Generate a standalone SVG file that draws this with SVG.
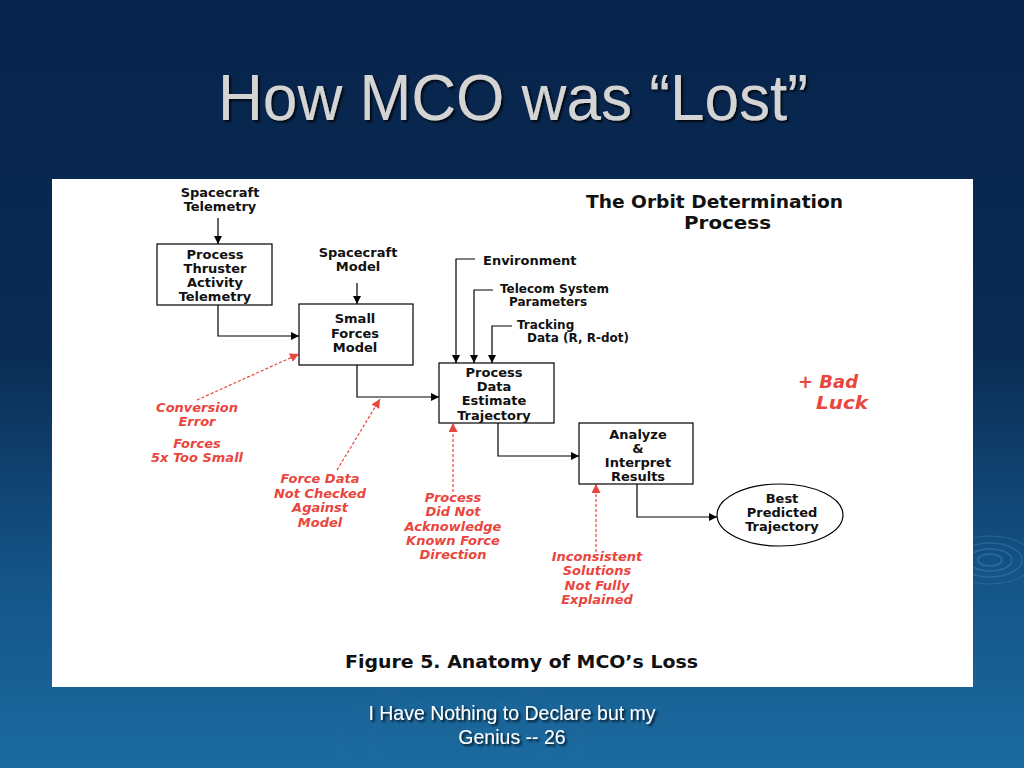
<svg xmlns="http://www.w3.org/2000/svg" width="1024" height="768" viewBox="0 0 1024 768">
<defs>
<linearGradient id="bg" x1="0" y1="0" x2="0" y2="1">
<stop offset="0" stop-color="#07244c"/>
<stop offset="0.45" stop-color="#0a2b52"/>
<stop offset="0.75" stop-color="#145487"/>
<stop offset="1" stop-color="#1b6ba0"/>
</linearGradient>
<marker id="ah" viewBox="0 0 10 10" refX="10" refY="5" markerWidth="8" markerHeight="8" markerUnits="userSpaceOnUse" orient="auto">
<path d="M0,0 L10,5 L0,10 z" fill="#000"/>
</marker>
<marker id="ahr" viewBox="0 0 10 10" refX="10" refY="5" markerWidth="9" markerHeight="9" markerUnits="userSpaceOnUse" orient="auto">
<path d="M0,0 L10,5 L0,10 z" fill="#e8463e"/>
</marker>
<filter id="sh" x="-5%" y="-20%" width="110%" height="140%">
<feDropShadow dx="2" dy="2" stdDeviation="1" flood-color="#000" flood-opacity="0.8"/>
</filter>
</defs>
<style>
.box{fill:#fff;stroke:#000;stroke-width:1.2}
.ar{fill:none;stroke:#000;stroke-width:1.2;marker-end:url(#ah)}
.rd{fill:none;stroke:#e8463e;stroke-width:1.2;stroke-dasharray:3 2;marker-end:url(#ahr)}
.t{font-family:"DejaVu Sans","Liberation Sans",Arial,sans-serif;font-weight:bold;font-size:13px;fill:#111}
.s{font-size:12px}
.c{text-anchor:middle}
.r{font-family:"DejaVu Sans","Liberation Sans",Arial,sans-serif;font-weight:bold;font-style:italic;font-size:13px;fill:#e8463e;text-anchor:middle}
.big{font-size:17px}
.rip{fill:none;stroke:#4b8fc0;stroke-opacity:0.35}
</style>
<rect x="0" y="0" width="1024" height="768" fill="url(#bg)"/>
<g id="ripples">
<ellipse class="rip" cx="990" cy="560" rx="12" ry="6" stroke-width="2"/>
<ellipse class="rip" cx="990" cy="560" rx="22" ry="11" stroke-width="2"/>
<ellipse class="rip" cx="990" cy="560" rx="32" ry="17" stroke-width="1.5"/>
<ellipse class="rip" cx="990" cy="560" rx="44" ry="24" stroke-width="1"/>
<ellipse class="rip" cx="460" cy="740" rx="120" ry="60" stroke-width="1" style="stroke-opacity:0.12"/>
<ellipse class="rip" cx="460" cy="740" rx="90" ry="42" stroke-width="1" style="stroke-opacity:0.12"/>
</g>
<text x="513" y="120" text-anchor="middle" textLength="590" lengthAdjust="spacingAndGlyphs" font-family="'Liberation Sans Narrow','Liberation Sans',Arial,sans-serif" font-size="64" fill="#d4d4d4" filter="url(#sh)">How MCO was “Lost”</text>
<rect id="panel" x="52" y="179" width="921" height="508" fill="#fff"/>
<g id="header">
<text class="t big" x="586" y="208" textLength="257" lengthAdjust="spacingAndGlyphs">The Orbit Determination</text>
<text class="t big" x="684" y="229" textLength="87" lengthAdjust="spacingAndGlyphs">Process</text>
</g>
<g id="connectors">
<line class="ar" x1="218" y1="218" x2="218" y2="244"/>
<polyline class="ar" points="218,305 218,336 299,336"/>
<line class="ar" x1="357" y1="283" x2="357" y2="304"/>
<polyline class="ar" points="357,365 357,397 439,397"/>
<polyline class="ar" points="475,259 456,259 456,363"/>
<polyline class="ar" points="493,290 474,290 474,363"/>
<polyline class="ar" points="512,326 492,326 492,363"/>
<polyline class="ar" points="498,423 498,456 579,456"/>
<polyline class="ar" points="637,484 637,517 717,517"/>
<line class="rd" x1="197" y1="400" x2="299" y2="354"/>
<line class="rd" x1="337" y1="470" x2="380" y2="399"/>
<line class="rd" x1="453" y1="492" x2="453" y2="423"/>
<line class="rd" x1="596" y1="552" x2="596" y2="484"/>
</g>
<g id="spacecraft-telemetry">
<text class="t c" x="220" y="197">Spacecraft</text>
<text class="t c" x="220" y="211">Telemetry</text>
</g>
<g id="process-thruster">
<rect class="box" x="157" y="244" width="115" height="61"/>
<text class="t c" x="215" y="259">Process</text>
<text class="t c" x="215" y="273">Thruster</text>
<text class="t c" x="215" y="287">Activity</text>
<text class="t c" x="215" y="301">Telemetry</text>
</g>
<g id="spacecraft-model">
<text class="t c" x="358" y="257">Spacecraft</text>
<text class="t c" x="358" y="271">Model</text>
</g>
<g id="small-forces">
<rect class="box" x="299" y="304" width="114" height="61"/>
<text class="t c" x="355" y="323">Small</text>
<text class="t c" x="355" y="338">Forces</text>
<text class="t c" x="355" y="352">Model</text>
</g>
<g id="environment"><text class="t" x="483" y="265">Environment</text></g>
<g id="telecom">
<text class="t s" x="500" y="293">Telecom System</text>
<text class="t s" x="509" y="306">Parameters</text>
</g>
<g id="tracking">
<text class="t s" x="517" y="329">Tracking</text>
<text class="t s" x="527" y="342">Data (R, R-dot)</text>
</g>
<g id="process-data">
<rect class="box" x="439" y="363" width="115" height="60"/>
<text class="t c" x="494" y="377">Process</text>
<text class="t c" x="494" y="391">Data</text>
<text class="t c" x="494" y="405">Estimate</text>
<text class="t c" x="494" y="420">Trajectory</text>
</g>
<g id="analyze">
<rect class="box" x="579" y="423" width="114" height="61"/>
<text class="t c" x="638" y="439">Analyze</text>
<text class="t c" x="638" y="453">&amp;</text>
<text class="t c" x="638" y="467">Interpret</text>
<text class="t c" x="638" y="481">Results</text>
</g>
<g id="best-predicted">
<ellipse class="box" cx="780" cy="515" rx="63" ry="31"/>
<text class="t c" x="782" y="503">Best</text>
<text class="t c" x="782" y="517">Predicted</text>
<text class="t c" x="782" y="531">Trajectory</text>
</g>
<g id="conversion-error">
<text class="r" x="197" y="412">Conversion</text>
<text class="r" x="197" y="426">Error</text>
<text class="r" x="197" y="448">Forces</text>
<text class="r" x="197" y="462">5x Too Small</text>
</g>
<g id="force-data">
<text class="r" x="320" y="483">Force Data</text>
<text class="r" x="320" y="498">Not Checked</text>
<text class="r" x="320" y="512">Against</text>
<text class="r" x="320" y="527">Model</text>
</g>
<g id="process-did-not">
<text class="r" x="453" y="502">Process</text>
<text class="r" x="453" y="516">Did Not</text>
<text class="r" x="453" y="531">Acknowledge</text>
<text class="r" x="453" y="545">Known Force</text>
<text class="r" x="453" y="559">Direction</text>
</g>
<g id="inconsistent">
<text class="r" x="597" y="561">Inconsistent</text>
<text class="r" x="597" y="575">Solutions</text>
<text class="r" x="597" y="590">Not Fully</text>
<text class="r" x="597" y="604">Explained</text>
</g>
<g id="bad-luck">
<text class="r big" x="798" y="388" style="text-anchor:start" textLength="60" lengthAdjust="spacingAndGlyphs">+ Bad</text>
<text class="r big" x="816" y="409" style="text-anchor:start" textLength="52" lengthAdjust="spacingAndGlyphs">Luck</text>
</g>
<text class="t big" x="345" y="668" textLength="353" lengthAdjust="spacingAndGlyphs">Figure 5. Anatomy of MCO’s Loss</text>
<g id="footer" font-family="'Liberation Sans',Arial,sans-serif" font-size="19.5" fill="#fff" text-anchor="middle" filter="url(#sh)">
<text x="512" y="720">I Have Nothing to Declare but my</text>
<text x="512" y="744">Genius -- 26</text>
</g>
</svg>
